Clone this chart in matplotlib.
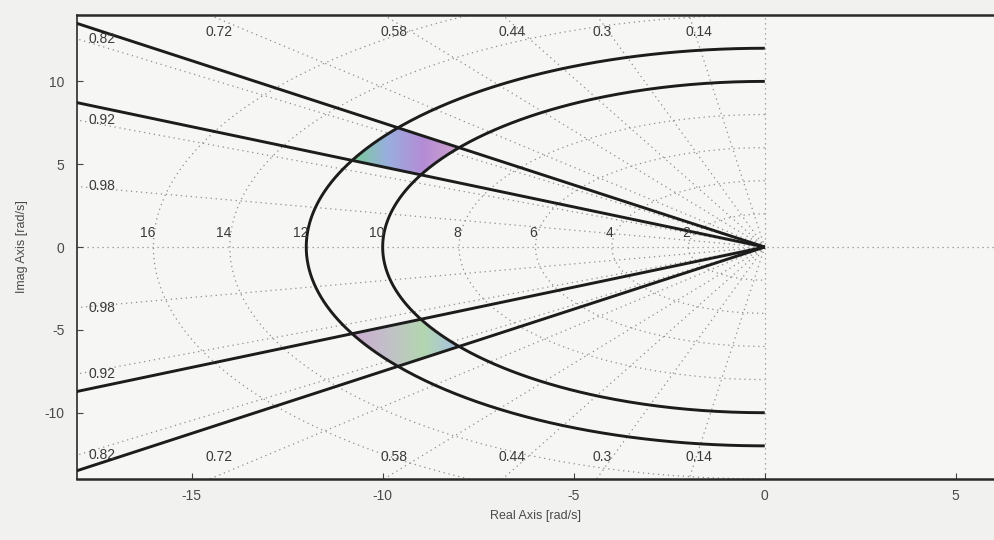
"""
plot.py
-------
s-plane design region: sgrid-style damping / natural-frequency grid with
the zeta and wn constraint boundaries and the shaded allowed regions.
"""

import numpy as np
import matplotlib
matplotlib.use('Agg')
import matplotlib.pyplot as plt
from matplotlib.colors import LinearSegmentedColormap
from matplotlib.patches import Polygon

plt.rcParams['axes.unicode_minus'] = False


# ── Data ────────────────────────────────────────────────
zeta_grid   = [0.14, 0.3, 0.44, 0.58, 0.72, 0.82, 0.92, 0.98]
wn_grid     = [2, 4, 6, 8, 10, 12, 14, 16]
zeta_bounds = [0.8, 0.9]       # allowed damping range
wn_bounds   = [10, 12]         # allowed natural frequency range [rad/s]
x_ticks     = [-15, -10, -5, 0, 5]
y_ticks     = [-10, -5, 0, 5, 10]
XLIM        = (-18, 6)
YLIM        = (-14, 14)

# ── Colors ──────────────────────────────────────────────
COLOR_FIG    = '#f1f1ef'
COLOR_AX     = '#f6f6f4'
COLOR_GRID   = '#8e8e8e'
COLOR_BOUND  = '#1c1c1c'
COLOR_TEXT   = '#3a3a3a'
UPPER_CMAP = LinearSegmentedColormap.from_list(
    'upper', ['#78cc96', '#9aaede', '#b48cd6', '#cfa2cc'])
LOWER_CMAP = LinearSegmentedColormap.from_list(
    'lower', ['#cdaad2', '#c2c0c8', '#b3d6b0', '#a7c2e4'])

FONT = 'Liberation Sans'
R_FAR = 40.0                   # long enough to leave the axes


def ray(zeta, sign=1):
    phi = np.arccos(zeta)
    return [0, -R_FAR * np.cos(phi)], [0, sign * R_FAR * np.sin(phi)]


def arc(wn):
    th = np.linspace(np.pi / 2, 3 * np.pi / 2, 400)
    return wn * np.cos(th), wn * np.sin(th)


def sector(z_lo, z_hi, r_in, r_out, sign=1):
    phi = np.linspace(np.arccos(z_hi), np.arccos(z_lo), 60)
    outer = np.column_stack([-r_out * np.cos(phi), sign * r_out * np.sin(phi)])
    inner = np.column_stack([-r_in * np.cos(phi[::-1]), sign * r_in * np.sin(phi[::-1])])
    return np.vstack([outer, inner])


fig = plt.figure(figsize=(9.95, 5.4), dpi=100)
fig.patch.set_facecolor(COLOR_FIG)
ax = fig.add_axes([77 / 995, 0.113, 917 / 995, 0.859])
ax.set_facecolor(COLOR_AX)
ax.set_xlim(*XLIM)
ax.set_ylim(*YLIM)

# ── sgrid ───────────────────────────────────────────────
grid_kw = dict(color=COLOR_GRID, lw=0.9, ls=(0, (1, 3)), zorder=1)
for z in zeta_grid:
    for s in (1, -1):
        ax.plot(*ray(z, s), **grid_kw)
for wn in wn_grid:
    ax.plot(*arc(wn), **grid_kw)
ax.plot(XLIM, [0, 0], **grid_kw)
ax.plot([0, 0], YLIM, **grid_kw)

# zeta labels: along the top/bottom edge or the left edge
for z in zeta_grid:
    tphi = np.tan(np.arccos(z))
    y_left = -XLIM[0] * tphi
    if y_left < YLIM[1] - 0.5:
        for s in (1, -1):
            ax.text(XLIM[0] + 0.3, s * y_left, f'{z:g}', ha='left', va='center',
                    fontsize=10, color=COLOR_TEXT, family=FONT, zorder=5)
    else:
        x_top = -YLIM[1] / tphi - 0.1
        ax.text(x_top, 13.0, f'{z:g}', ha='left', va='center',
                fontsize=10, color=COLOR_TEXT, family=FONT, zorder=5)
        ax.text(x_top, -12.7, f'{z:g}', ha='left', va='center',
                fontsize=10, color=COLOR_TEXT, family=FONT, zorder=5)

# wn labels just above the real axis
for wn in wn_grid:
    ax.text(-wn + 0.05, 0.85, str(wn), ha='right', va='center',
            fontsize=10, color=COLOR_TEXT, family=FONT, zorder=5)

# ── Shaded allowed regions ──────────────────────────────
for sign, cmap in ((1, UPPER_CMAP), (-1, LOWER_CMAP)):
    verts = sector(zeta_bounds[0], zeta_bounds[1], wn_bounds[0], wn_bounds[1], sign)
    poly = Polygon(verts, closed=True, facecolor='none', edgecolor='none')
    ax.add_patch(poly)
    x0, x1 = verts[:, 0].min(), verts[:, 0].max()
    y0, y1 = verts[:, 1].min(), verts[:, 1].max()
    grad = np.tile(np.linspace(0, 1, 256), (16, 1))
    im = ax.imshow(grad, extent=(x0, x1, y0, y1), cmap=cmap, aspect='auto',
                   origin='lower', zorder=2, interpolation='bilinear')
    im.set_clip_path(poly)
ax.set_xlim(*XLIM)
ax.set_ylim(*YLIM)

# ── Constraint boundaries ───────────────────────────────
bound_kw = dict(color=COLOR_BOUND, lw=2.1, solid_capstyle='butt', zorder=4)
for z in zeta_bounds:
    for s in (1, -1):
        ax.plot(*ray(z, s), **bound_kw)
for wn in wn_bounds:
    ax.plot(*arc(wn), **bound_kw)

# ── Axes styling ────────────────────────────────────────
ax.set_xticks(x_ticks)
ax.set_yticks(y_ticks)
ax.tick_params(direction='in', length=4, width=0.8, color='#444444',
               labelsize=10, labelcolor='#4a4a4a')
ax.tick_params(axis='y', pad=9)
ax.tick_params(axis='x', pad=7)
for lab in ax.get_xticklabels() + ax.get_yticklabels():
    lab.set_family(FONT)

ax.spines['right'].set_visible(False)
ax.spines['top'].set_linewidth(1.8)
ax.spines['bottom'].set_linewidth(1.8)
ax.spines['left'].set_linewidth(1.2)
for sp in ax.spines.values():
    sp.set_color('#2a2a2a')

ax.set_xlabel('Real Axis [rad/s]', fontsize=9, color='#4a4a4a', family=FONT,
              labelpad=5)
ax.set_ylabel('Imag Axis [rad/s]', fontsize=9, color='#4a4a4a', family=FONT,
              labelpad=12)

fig.savefig('out.png', dpi=100, facecolor=fig.get_facecolor())
